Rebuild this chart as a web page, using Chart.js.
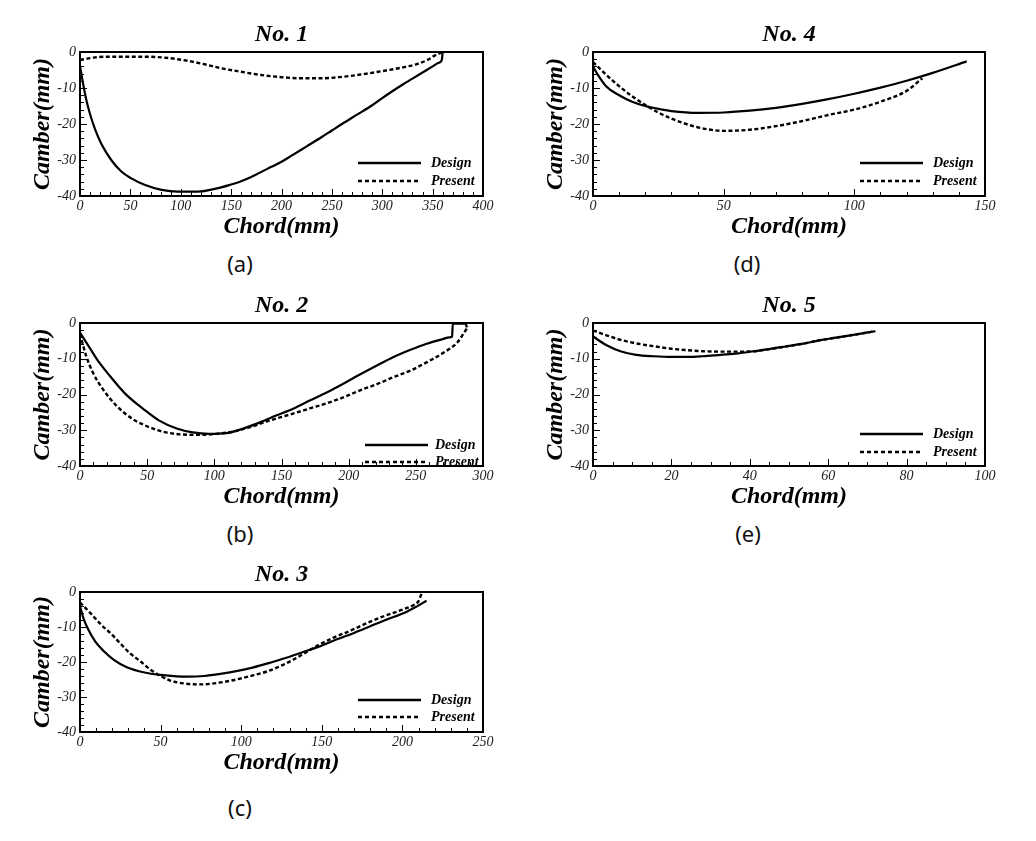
<!DOCTYPE html>
<html><head><meta charset="utf-8">
<script src="https://cdn.jsdelivr.net/npm/chart.js@4.4.1/dist/chart.umd.min.js"></script>
<style>
html,body{margin:0;padding:0;background:#fff;overflow:hidden;width:1036px;height:841px;position:relative;}
.box{position:absolute;}
.box canvas{display:block;}
.lab{position:absolute;font-family:'Noto Sans',sans-serif;font-size:22px;color:#111;transform:translate(-50%,-50%);white-space:nowrap;}
</style></head><body>
<div class="box" style="left:30px;top:20px"><canvas id="c1" width="503" height="226"></canvas></div>
<div class="box" style="left:543px;top:20px"><canvas id="c4" width="492" height="226"></canvas></div>
<div class="box" style="left:30px;top:291px"><canvas id="c2" width="503" height="225"></canvas></div>
<div class="box" style="left:543px;top:291px"><canvas id="c5" width="492" height="225"></canvas></div>
<div class="box" style="left:30px;top:560px"><canvas id="c3" width="503" height="222"></canvas></div>
<div class="lab" style="left:240px;top:263px">(a)</div>
<div class="lab" style="left:747px;top:263px">(d)</div>
<div class="lab" style="left:240px;top:533px">(b)</div>
<div class="lab" style="left:748px;top:533px">(e)</div>
<div class="lab" style="left:240px;top:807px">(c)</div>
<script>
// ---------- data ----------
const seriesLabels = ['Design', 'Present'];
const camberTicks = { min: -40, max: 0, step: 10 };

// No. 1
const no1ChordDesign  = [0, 1, 3, 6, 10, 15, 21, 31, 41, 51, 64, 81, 97, 117, 136, 150, 160, 175, 190, 200, 210, 225, 240, 250, 260, 275, 290, 300, 310, 320, 330, 340, 350, 356, 359, 360];
const no1CamberDesign = [-4.0, -5.5, -8.7, -13.0, -17.3, -21.5, -25.4, -30.0, -33.2, -35.1, -36.9, -38.3, -38.8, -38.8, -37.9, -36.8, -35.9, -34.0, -31.9, -30.5, -28.8, -26.2, -23.6, -21.8, -20.0, -17.4, -14.8, -12.8, -10.9, -9.1, -7.4, -5.7, -4.0, -3.0, -2.3, 0];
const no1ChordPresent  = [0, 15, 30, 48, 65, 81, 97, 110, 125, 140, 160, 180, 200, 220, 240, 260, 280, 300, 320, 335, 345, 352, 360];
const no1CamberPresent = [-2.2, -1.5, -1.3, -1.3, -1.3, -1.5, -2.0, -2.6, -3.5, -4.5, -5.5, -6.4, -7.0, -7.3, -7.3, -6.9, -6.2, -5.3, -4.3, -3.3, -2.2, -1.0, 0];

// No. 2
const no2ChordDesign  = [0, 7, 14, 22, 34, 47, 59, 72, 84, 96, 109, 121, 134, 146, 159, 171, 184, 196, 208, 221, 233, 246, 258, 270, 275, 277, 277.5, 287, 288];
const no2CamberDesign = [-2.7, -6.8, -10.9, -14.7, -19.9, -24.0, -27.3, -29.5, -30.6, -31.0, -30.8, -29.6, -27.8, -25.9, -23.9, -21.7, -19.4, -17.0, -14.5, -11.9, -9.6, -7.5, -5.8, -4.5, -4.0, -3.8, -0.2, -0.2, -1.2];
const no2ChordPresent  = [0, 4.5, 9.5, 17, 27, 39, 52, 64, 77, 89, 101, 114, 126, 141, 159, 171, 184, 196, 208, 221, 233, 246, 258, 271, 281, 287, 289];
const no2CamberPresent = [-3.0, -9.1, -13.8, -18.5, -23.1, -26.8, -29.2, -30.6, -31.2, -31.3, -31.0, -30.4, -29.2, -27.3, -25.3, -23.9, -22.4, -20.8, -18.9, -17.1, -15.2, -13.3, -11.0, -8.2, -5.4, -2.1, -1.0];

// No. 3
const no3ChordDesign  = [0, 2, 5, 9.5, 15, 21, 29, 40, 50, 60, 67, 77, 87, 97, 107, 118, 128, 138, 149, 159, 170, 180, 190, 201, 209, 215];
const no3CamberDesign = [-4.0, -7.3, -10.6, -14.2, -17.0, -19.4, -21.5, -23.0, -23.7, -24.1, -24.2, -24.0, -23.4, -22.6, -21.6, -20.2, -18.8, -17.2, -15.5, -13.6, -11.7, -9.8, -7.9, -6.0, -4.1, -2.5];
const no3ChordPresent  = [0, 6, 13, 19, 25, 31, 38, 44, 50, 56, 64, 75, 85, 95, 105, 116, 126, 136, 147, 157, 168, 178, 188, 199, 207, 210, 212];
const no3CamberPresent = [-3.0, -5.8, -9.3, -11.8, -14.7, -17.5, -20.0, -22.3, -24.0, -25.3, -26.1, -26.4, -26.0, -25.2, -24.1, -22.7, -20.8, -18.4, -15.4, -13.1, -11.0, -8.9, -7.0, -5.2, -3.7, -2.6, -0.3];

// No. 4
const no4ChordDesign  = [0, 2, 5, 10, 15, 20, 25, 30, 40, 50, 60, 70, 80, 90, 100, 110, 120, 130, 143];
const no4CamberDesign = [-4.0, -6.5, -9.5, -12.0, -13.8, -15.0, -15.8, -16.4, -16.9, -16.8, -16.3, -15.5, -14.4, -13.1, -11.6, -9.9, -8.0, -5.8, -2.6];
const no4ChordPresent  = [0, 2, 5, 10, 15, 20, 25, 30, 40, 50, 60, 70, 80, 90, 100, 110, 120, 126];
const no4CamberPresent = [-2.8, -4.2, -6.3, -9.5, -12.3, -14.7, -16.8, -18.5, -20.9, -21.9, -21.6, -20.6, -19.2, -17.5, -16.0, -13.8, -10.8, -7.3];

// No. 5
const no5ChordDesign  = [0, 1, 3.6, 7, 11, 15.5, 20, 24, 28, 32.5, 37, 41, 45, 49.5, 54, 58, 62, 66.5, 72];
const no5CamberDesign = [-3.7, -4.5, -6.3, -7.9, -8.9, -9.3, -9.5, -9.5, -9.3, -8.9, -8.5, -7.9, -7.3, -6.5, -5.7, -4.8, -4.1, -3.3, -2.3];
const no5ChordPresent  = [0, 3.6, 7, 11, 15.5, 20, 24, 28, 32.5, 37, 41, 45, 49.5, 54, 58, 62, 66.5, 72];
const no5CamberPresent = [-2.1, -3.5, -4.7, -5.7, -6.5, -7.2, -7.6, -7.9, -8.0, -8.0, -7.9, -7.3, -6.5, -5.7, -4.8, -4.1, -3.3, -2.3];

// ---------- rendering ----------
const SERIF = "'Liberation Serif','Times New Roman',serif";
const pts = (xs, ys) => xs.map((x, i) => ({ x, y: ys[i] }));

const framePlugin = {
  id: 'frame',
  afterDatasetsDraw(chart, args, o) {
    const { ctx, chartArea: a, scales: { x, y } } = chart;
    ctx.save();
    ctx.strokeStyle = '#000';
    ctx.lineWidth = 1;
    const isMajor = (v, step) => Math.abs(v / step - Math.round(v / step)) < 1e-6;
    for (let v = x.min; v <= x.max + 1e-9; v += o.xMinor) {
      const px = Math.round(x.getPixelForValue(v)) + 0.5;
      const len = isMajor(v, o.xMajor) ? 7 : 4;
      ctx.beginPath(); ctx.moveTo(px, a.bottom); ctx.lineTo(px, a.bottom - len); ctx.stroke();
    }
    for (let v = y.min; v <= y.max + 1e-9; v += o.yMinor) {
      const py = Math.round(y.getPixelForValue(v)) + 0.5;
      const len = isMajor(v, o.yMajor) ? 7 : 4;
      ctx.beginPath(); ctx.moveTo(a.left, py); ctx.lineTo(a.left + len, py); ctx.stroke();
    }
    // legend inside the plot
    ctx.save();
    ctx.beginPath(); ctx.rect(a.left, a.top, a.width, a.height); ctx.clip();
    const L = o.legend;
    chart.data.datasets.forEach((ds, i) => {
      const yy = a.bottom + (i === 0 ? L.row1 : L.row2);
      ctx.strokeStyle = ds.borderColor;
      ctx.lineWidth = 2.5;
      ctx.setLineDash(ds.borderDash ? [4, 3] : []);
      ctx.beginPath(); ctx.moveTo(a.right + L.lineStart, yy); ctx.lineTo(a.right + L.lineEnd, yy); ctx.stroke();
      ctx.setLineDash([]);
      ctx.fillStyle = '#000';
      ctx.font = "italic bold 14px " + SERIF;
      ctx.textBaseline = 'middle';
      ctx.textAlign = 'left';
      ctx.fillText(ds.label, a.right + L.textX, yy);
    });
    ctx.restore();
    // frame
    ctx.lineWidth = 2;
    ctx.strokeStyle = '#000';
    ctx.strokeRect(a.left, a.top, a.width, a.height);
    ctx.restore();
  }
};

function makeChart(id, title, xMax, xStep, xMinor, dX, dY, pX, pY, legend) {
  const tickFont = { family: SERIF, size: 14, style: 'italic' };
  const titleFont = { family: SERIF, size: 24, style: 'italic', weight: 'bold', lineHeight: 1 };
  return new Chart(document.getElementById(id), {
    type: 'line',
    data: {
      datasets: [
        { label: seriesLabels[0], data: pts(dX, dY), borderColor: '#000', borderWidth: 2.2, pointRadius: 0, fill: false, cubicInterpolationMode: 'monotone' },
        { label: seriesLabels[1], data: pts(pX, pY), borderColor: '#000', borderWidth: 2.4, borderDash: [4, 2.5], pointRadius: 0, fill: false, cubicInterpolationMode: 'monotone' }
      ]
    },
    options: {
      responsive: false,
      animation: false,
      devicePixelRatio: 1,
      layout: { padding: 0 },
      events: [],
      scales: {
        x: {
          type: 'linear', position: 'bottom', min: 0, max: xMax,
          ticks: { stepSize: xStep, font: tickFont, color: '#222', padding: 2, maxRotation: 0, autoSkip: false },
          grid: { display: false, drawTicks: false }, border: { display: false },
          title: { display: true, text: 'Chord(mm)', font: titleFont, color: '#000', padding: { top: 0, bottom: 7 } },
          afterFit(s) { s.height = 50; }
        },
        y: {
          type: 'linear', position: 'left', min: camberTicks.min, max: camberTicks.max,
          ticks: { stepSize: camberTicks.step, font: tickFont, color: '#222', padding: 4 },
          grid: { display: false, drawTicks: false }, border: { display: false },
          title: { display: true, text: 'Camber(mm)', font: titleFont, color: '#000', padding: { top: 1, bottom: 0 } },
          afterFit(s) { s.width = 50; }
        },
        yr: {
          type: 'linear', position: 'right', display: true,
          ticks: { display: false }, grid: { display: false, drawTicks: false }, border: { display: false },
          afterFit(s) { s.width = 50; }
        }
      },
      plugins: {
        legend: { display: false },
        tooltip: { enabled: false },
        title: { display: true, text: title, font: titleFont, color: '#000', padding: { top: 3, bottom: 5 } },
        frame: { xMinor, xMajor: xStep, yMinor: 2, yMajor: camberTicks.step, legend }
      }
    },
    plugins: [framePlugin]
  });
}

const legStd = { lineStart: -125, lineEnd: -62, textX: -52, row1: -33, row2: -15 };
makeChart('c1', 'No. 1', 400, 50, 10, no1ChordDesign, no1CamberDesign, no1ChordPresent, no1CamberPresent, legStd);
makeChart('c2', 'No. 2', 300, 50, 10, no2ChordDesign, no2CamberDesign, no2ChordPresent, no2CamberPresent, { lineStart: -118, lineEnd: -55, textX: -48, row1: -21, row2: -4 });
makeChart('c3', 'No. 3', 250, 50, 10, no3ChordDesign, no3CamberDesign, no3ChordPresent, no3CamberPresent, { lineStart: -125, lineEnd: -62, textX: -52, row1: -32, row2: -15 });
makeChart('c4', 'No. 4', 150, 50, 10, no4ChordDesign, no4CamberDesign, no4ChordPresent, no4CamberPresent, legStd);
makeChart('c5', 'No. 5', 100, 20, 5, no5ChordDesign, no5CamberDesign, no5ChordPresent, no5CamberPresent, { lineStart: -125, lineEnd: -62, textX: -52, row1: -32, row2: -14 });
</script>
</body></html>
